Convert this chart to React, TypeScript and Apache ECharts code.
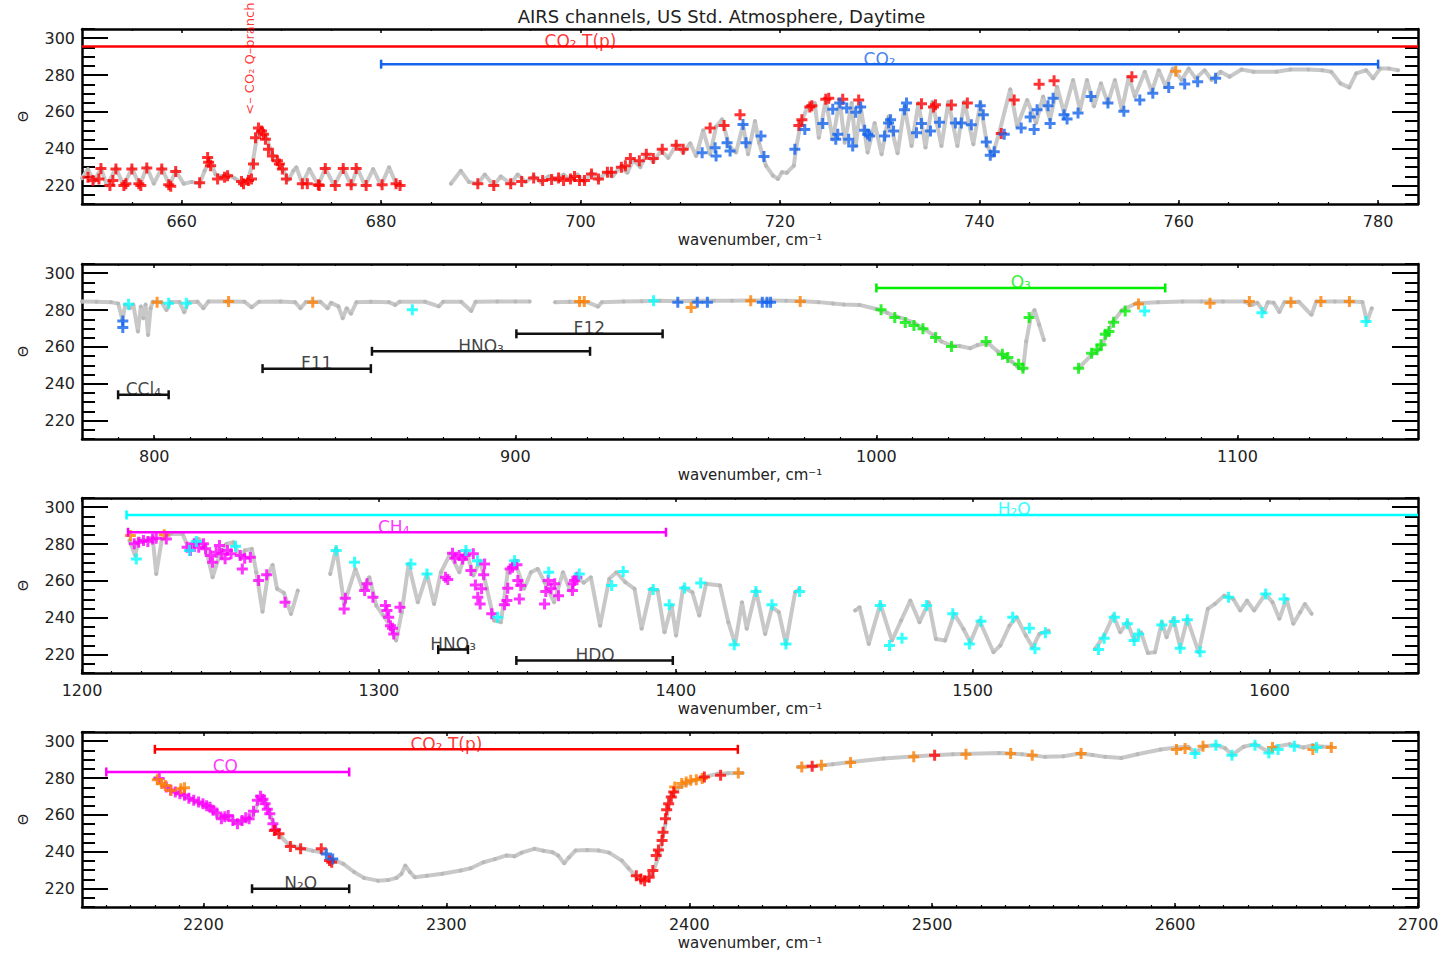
import React, { useEffect, useRef } from 'react';
import * as echarts from 'echarts';

const TITLE = 'AIRS channels, US Std. Atmosphere, Daytime';
const X_NAME = 'wavenumber, cm⁻¹';
const Y_NAME = 'Θ';
const Y_MIN = 210;
const Y_MAX = 305;
const Y_TICKS = [220, 240, 260, 280, 300];

const P1_TICKS = [660, 680, 700, 720, 740, 760, 780];
const P2_TICKS = [800, 900, 1000, 1100];
const P3_TICKS = [1200, 1300, 1400, 1500, 1600];
const P4_TICKS = [2200, 2300, 2400, 2500, 2600, 2700];

// ---------- Panel 1 (650-784) ----------
const p1Gray = [
  [650, 224], [650.6, 229], [651.2, 222], [651.9, 229.5], [652.5, 220], [653.4, 229.5], [654.2, 220], [655.0, 229.5],
  [655.8, 220], [656.5, 230], [657.2, 221], [658.0, 229.5], [658.8, 220], [659.4, 228], [660.2, 221], [661, 222],
  [661.8, 221], [662.3, 228], [662.8, 234], [663.4, 226], [664, 225], [664.6, 226], [665.3, 224], [666, 222],
  [666.6, 222], [667.1, 232], [667.6, 248], [668, 251], [668.5, 246], [669, 238], [669.6, 233], [670.2, 228],
  [670.7, 223], [671.2, 228], [671.5, 230], [672.1, 221], [672.8, 229], [673.7, 220], [674.4, 229.5], [675.3, 220],
  [676.2, 229.5], [677, 220], [677.6, 229.5], [678.4, 220], [679.2, 229], [680, 220], [680.8, 230], [681.5, 221],
  [682, 220], [684, '-'],
  [687, 221], [688, 228], [688.8, 222], [689.7, 221], [690.4, 226], [691.3, 220], [692, 225], [693, 221],
  [693.7, 226], [694.5, 222], [695.3, 225], [696, 222], [696.8, 225], [697.5, 223], [698.3, 226], [699, 223],
  [699.7, 226], [700.4, 222], [701.1, 227], [701.8, 223], [702.5, 227], [703.2, 225], [704, 230], [704.7, 227],
  [705.3, 234], [706, 230], [706.6, 237], [707.3, 233], [708.1, 239], [708.8, 235], [709.6, 242], [710.3, 238],
  [711, 243], [711.6, 236], [712.3, 250], [713, 237], [713.6, 252], [714.2, 256], [714.9, 241.5], [715.6, 238],
  [716.3, 253], [716.8, 237], [717.5, 255], [717.9, 243.3], [718.6, 230.8], [719.3, 225.4], [719.8, 223.6],
  [720.2, 227.2], [720.7, 227], [721.4, 230.8], [721.6, 239.7], [722.1, 254], [722.8, 263], [723.5, 264.8],
  [723.9, 246], [724.6, 266.5], [725.3, 245], [726, 266.5], [726.5, 243.3], [727.2, 264.8], [727.6, 241.5],
  [728.1, 263], [728.8, 237.9], [729.5, 254], [730.2, 237], [730.9, 257.6], [731.8, 237.5], [732.5, 263],
  [733.2, 241.5], [733.9, 264.8], [734.6, 240.6], [735.3, 265.5], [736.2, 241.5], [736.9, 265.5], [737.8, 241.5],
  [738.5, 265.5], [739.4, 242.4], [740.1, 264.8], [740.8, 241.5], [741.3, 236], [742, 248.7], [743.1, 272.3],
  [743.8, 252.2], [744.8, 266.5], [745.7, 254], [746.4, 268.3], [747.1, 255.8], [747.8, 273.7], [748.5, 259.4],
  [749.4, 277.3], [750.1, 261.2], [750.8, 277.3], [751.5, 263], [752.2, 275.5], [752.9, 264.8], [753.6, 277.3],
  [754.3, 261.2], [755, 279.1], [755.6, 268.3], [756.6, 281.8], [757.3, 271], [758, 282.6], [758.7, 273.7],
  [759.4, 283.5], [760.3, 277.3], [761, 283.5], [761.7, 278.2], [762.6, 282.6], [763.3, 277.3], [764.2, 281.8],
  [765.1, 279.1], [766.3, 283], [767.5, 281.8], [769.8, 281.8], [771.2, 283], [773, 283], [774.4, 282.6],
  [775.3, 281.8], [776.2, 275.5], [777.1, 273.3], [777.8, 280.9], [778.8, 282.6], [779.5, 278.2], [780.2, 283.5],
  [781.1, 283.5], [782, 282.6],
];
const p1Red = [
  [650.6, 224.5], [651.1, 222.7], [651.7, 223.6], [651.9, 229.3], [652.8, 220], [653.1, 222.7], [653.4, 229],
  [654.2, 220], [654.4, 221], [655.0, 229], [655.7, 221], [655.9, 220], [656.5, 229.5], [658.0, 229], [658.7, 220.4],
  [658.9, 219.7], [659.4, 227.6], [661.8, 221.5], [662.6, 235.2], [662.7, 232.6], [662.9, 230.8], [663.6, 223.6],
  [664.3, 224.5], [664.6, 225.4], [666.0, 222.2], [666.2, 221], [666.7, 222.7], [667.0, 223.6], [667.2, 231.7],
  [667.4, 246], [667.7, 251.3], [668.0, 249.6], [668.2, 247.8], [668.4, 245.1], [668.7, 239.7], [669.1, 236.1],
  [669.6, 233.5], [669.8, 231.7], [670.1, 229], [670.5, 223.6], [672.1, 221], [672.6, 221], [673.7, 220.4],
  [673.8, 220], [674.4, 229.3], [675.4, 220], [676.2, 229.3], [677.0, 220.4], [677.5, 229.3], [678.5, 220],
  [680.1, 220.4], [681.5, 221], [681.9, 220],
  [689.7, 221], [691.3, 220], [693.0, 221], [694.1, 222.2], [695.3, 224.1], [696.2, 222.7], [697.1, 223.3],
  [697.8, 224.1], [698.3, 222.7], [699.0, 223.6], [699.4, 224.9], [699.9, 222.7], [700.4, 222.7], [701.1, 226.3],
  [701.8, 223.6], [702.7, 227.2], [703.1, 227.2], [704.1, 229.9], [704.5, 230.8], [705.0, 234.7], [705.9, 233.5],
  [706.6, 237], [707.3, 234.7], [708.2, 239.7], [709.6, 241.9], [710.3, 239.7], [713.0, 251.3], [714.4, 252.6],
  [716.0, 258.5], [721.9, 252.6], [722.2, 255.8], [723, 262.6], [723.2, 263.3], [724.6, 266.9], [724.9, 267.4],
  [726.3, 266.9], [727.9, 266.5], [734.2, 264.4], [735.4, 262.6], [735.6, 263.9], [737.2, 263.7], [738.8, 264.8],
  [742.2, 248.3], [743.5, 266.5], [746, 275], [747.5, 276.9], [755.3, 279.1],
];
const p1Blue = [
  [712.2, 237.8], [713.5, 240.5], [713.6, 236.1], [714.7, 243.3], [715, 238.8], [716.3, 253.1], [716.6, 243.3],
  [718.1, 246.9], [718.4, 235.8], [721.5, 239.7], [722.5, 250.4], [724.3, 253.7], [725.3, 261.5], [725.6, 245.1],
  [725.8, 247.8], [726, 264.8], [726.7, 262.1], [726.9, 245.1], [727.3, 241.5], [727.6, 259.8], [728.1, 262.6],
  [728.5, 250.1], [728.8, 247.8], [729, 246.9], [730.5, 246.9], [730.9, 254], [731.1, 255.8], [731.4, 249.6],
  [732.5, 261.2], [732.7, 264.8], [733.7, 248.7], [734.2, 253.7], [735.1, 249.6], [736, 254.4], [737.6, 254],
  [738.2, 254], [739.2, 253], [740.1, 263.3], [740.4, 258.5], [740.7, 243.6], [741.1, 236.5], [741.5, 238.3],
  [742.5, 247.8], [744.2, 251.3], [745.1, 257.2], [745.5, 250.4], [745.8, 261.2], [746.9, 263.3], [747.1, 253.7],
  [747.4, 267.4], [748.5, 258.5], [748.8, 256.2], [749.9, 259.4], [751.2, 268.3], [752.9, 264.8], [754.5, 260.3],
  [756.1, 266.5], [757.4, 270.1], [759, 273.3], [760.6, 275.1], [761.9, 276.4], [763.7, 278.2],
];
const p1Orange = [[759.7, 282.1]];

// ---------- Panel 2 (780-1150) ----------
const p2Gray = [
  [780, 284.6], [784, 284.5], [788, 284.3], [790, 283.5], [791.2, 274.7], [792, 283], [793.2, 281], [794.2, 283],
  [795.5, 268.3], [796.3, 282], [797, 275.6], [797.6, 283], [798.3, 266.5], [799, 281], [799.6, 284.5], [802, 284.3],
  [803.4, 280], [804.5, 284.4], [807, 284.4], [808.3, 278.8], [809.5, 284.4], [812, 284.5], [813.6, 281],
  [815, 284.6], [820, 284.6], [825, 284.5], [827, 281.5], [829, 284.5], [835, 284.6], [839, 284.3], [840.5, 281],
  [842, 284.4], [846, 284.5], [848, 281], [849, 284], [851, 282], [852.2, 275.6], [853.3, 281], [854.5, 278],
  [856, 284.3], [860, 284.5], [865, 284.3], [866.7, 282.8], [868, 284.5], [875, 284.5], [878.8, 282], [880, 284.5],
  [885, 284.5], [887.8, 279.5], [889, 284.5], [895, 284.6], [900, 284.6], [904, 284.6], [907, '-'],
  [911, 284.3], [915, 284.5], [920, 284.3], [922.9, 281.9], [924, 284.3], [930, 284.6], [935, 284.8], [940, 285],
  [945, 284.8], [950, 285], [955, 285], [960, 285], [965, 285.2], [970, 285.2], [975, 285], [980, 284.8],
  [984, 284.3], [988, 283.5], [991, 283], [995.3, 282.8], [1000, 280.6], [1003, 278.5], [1005.5, 276.5],
  [1008, 275], [1010.6, 272.9], [1013, 270], [1015.7, 266.5], [1018, 263], [1020.8, 260.7], [1023, 260.5],
  [1026, 259.3], [1028, 261], [1031, 262], [1033.6, 257.5], [1035.5, 255], [1037.5, 252], [1039, 249.5],
  [1040.6, 247.5], [1041.5, 263], [1042.8, 276.5], [1043.8, 280], [1045.1, 272], [1046.4, 263.8], [1050, '-'],
  [1056, 248.4], [1059.6, 255.7], [1062.1, 259.3], [1063.7, 266.5], [1065.6, 273.8], [1068.1, 280], [1072, 283.7],
  [1078, 284.2], [1084.8, 284.6], [1090, 284.6], [1096, 284.6], [1102, 284.6], [1104, 282.8], [1105.5, 284],
  [1107.3, 279], [1108.4, 284.2], [1110, 284], [1111.6, 279], [1113, 284.3], [1117, 284.5], [1120.5, 277.4],
  [1121.8, 284.6], [1127, 284.6], [1131, 284.6], [1134.6, 284.4], [1135.9, 273.8], [1137.2, 281],
];
const p2Cyan = [
  [792.9, 283.2], [804, 283.7], [808.9, 283.7], [871.5, 280.1], [938.3, 285], [1074.3, 279.5], [1106.8, 278.6],
  [1135.6, 273.8],
];
const p2Blue = [
  [791.3, 274], [791.3, 270.5], [945, 284.3], [950.4, 284.3], [953.2, 284.3], [968.4, 284.3], [969.7, 284.3],
  [970.7, 284.3],
];
const p2Orange = [
  [800.8, 284.3], [820.6, 284.6], [843.9, 284.3], [917.8, 284.6], [919.1, 284.6], [948.7, 281.4], [965.2, 285],
  [978.9, 284.6], [1072.6, 283.3], [1092.4, 283.7], [1103.3, 284.6], [1114.8, 284.3], [1123.1, 284.6],
  [1131, 284.6],
];
const p2Green = [
  [1001.3, 280.1], [1005.1, 275.9], [1008, 273.2], [1010.4, 271.6], [1012.9, 269.8], [1016.4, 265.1],
  [1020.8, 260.2], [1030.4, 262.9], [1034.9, 256], [1036.4, 254.2], [1039.4, 250.6], [1040.6, 248.4],
  [1042.3, 275.9], [1056, 248.4], [1059.6, 256.6], [1061.1, 258.4], [1062.2, 261.1], [1063.4, 266.9],
  [1064.4, 268.3], [1065.7, 273.4], [1068.9, 279.5],
];

// ---------- Panel 3 (1200-1650) ----------
const p3Gray = [
  [1216, 282], [1217.9, 273.8], [1219.1, 282.8], [1221, 282], [1222.5, 283], [1223.8, 283.7], [1225, 263.8],
  [1226.9, 282.8], [1230, 285.5], [1233.9, 285.5], [1236.2, 276.5], [1237.8, 281.5], [1239.3, 282.8],
  [1241.6, 278.3], [1244, 262], [1246.3, 273.8], [1248.6, 280], [1251, 281], [1253.3, 272.6], [1254.8, 276.5],
  [1257.2, 277.4], [1258.7, 264.7], [1260.8, 243.3], [1262.6, 263.3], [1264.2, 268.7], [1265.7, 255.7],
  [1268, 253.5], [1270.4, 242], [1272.7, 254.8], [1278, '-'],
  [1283.6, 263.8], [1285.6, 277.7], [1288.3, 247.5], [1292.1, 266.5], [1294.5, 255.7], [1296.8, 262],
  [1299.1, 246.6], [1301.5, 241.2], [1303.8, 235.7], [1305.8, 227.6], [1307.7, 243], [1310, 269.2],
  [1313.1, 248.4], [1316.2, 263.8], [1318.6, 247.5], [1320.9, 264.7], [1324, 274.7], [1327.1, 264.7],
  [1329.4, 276.5], [1331.8, 262.9], [1334.1, 271], [1336.4, 255.7], [1338.8, 238.5], [1341.1, 237.6],
  [1343.4, 264.7], [1345.7, 271], [1348.9, 255.7], [1351.2, 264.7], [1353.5, 266.5], [1355.8, 259.3],
  [1359, 248.4], [1362, 264.7], [1364.4, 254.8], [1366.7, 262], [1369, 259], [1371.4, 262], [1374.5, 235.7],
  [1377.6, 261.1], [1380, 264.7], [1383, 259.3], [1386.1, 255.7], [1388.5, 234], [1391.6, 255.7], [1393.9, 254.8],
  [1396.2, 232.1], [1398.6, 246.6], [1400.1, 230.3], [1402.5, 256.6], [1405.6, 253.8], [1407.9, 241.2],
  [1410.2, 258.4], [1414.9, 257.5], [1417.7, 237.6], [1420, 225.8], [1422.3, 248.4], [1423.9, 234], [1427, 254.8],
  [1430.1, 231.2], [1432.4, 245.7], [1434.7, 243], [1437.1, 225.8], [1440.2, 253.8], [1441.7, 255.7], [1450, '-'],
  [1460.4, 243.9], [1461.9, 245.7], [1465, 225.8], [1468.9, 247.5], [1472.8, 227.6], [1475.9, 238.5],
  [1479, 249.3], [1482.1, 237.6], [1485.2, 248.4], [1487.6, 228.5], [1490.7, 227.6], [1493.8, 242.1],
  [1496.9, 233.9], [1499.2, 226.7], [1502.3, 238.5], [1507, 221.3], [1509.3, 224.9], [1512.4, 235.7],
  [1514.8, 240.3], [1517.9, 230.3], [1520.2, 224], [1522.5, 231.2], [1525.6, 233], [1533, '-'],
  [1541.2, 223.1], [1544.3, 230.3], [1547.4, 241.2], [1549.7, 232.1], [1552.1, 237.6], [1554.4, 227.6],
  [1556.7, 232.1], [1559, 220.9], [1561.4, 221.3], [1563.7, 237.6], [1565.3, 229.4], [1567.6, 239.4],
  [1569.9, 224], [1572.3, 239.4], [1576.1, 221.3], [1579.2, 244.8], [1581.6, 247.5], [1584.7, 252],
  [1587.8, 250.2], [1590.1, 243.9], [1592.4, 249.3], [1594.8, 243.9], [1598.6, 252.9], [1601, 248.4],
  [1603.3, 239.4], [1605.7, 250.2], [1608, 236.7], [1610.3, 243], [1611.9, 247.5], [1614.2, 242.1],
];
const p3Orange = [[1216.3, 284.6], [1227.7, 285]];
const p3Magenta = [
  [1217.6, 280.1], [1219.1, 281], [1220.7, 281.9], [1222.2, 281.4], [1223.8, 282.8], [1225, 283.2], [1228.4, 282.8],
  [1235.4, 278.3], [1236.5, 276.5], [1237.8, 280.1], [1239.3, 278.3], [1240.9, 280.1], [1241.6, 277.4],
  [1243.2, 273.8], [1244, 270.1], [1245.2, 275.6], [1246.3, 279.2], [1247.1, 274.7], [1248.2, 272], [1249, 276.5],
  [1250.2, 274.7], [1253.3, 273.8], [1254, 266.5], [1254.8, 272.3], [1256.7, 272.9], [1259.5, 260.2],
  [1262.2, 263.3], [1268.4, 248.4], [1288.7, 250.6], [1288.3, 244.8], [1296, 258.4], [1295.2, 254.8],
  [1298, 251.1], [1302.2, 246.6], [1302.7, 243.9], [1303.3, 240.3], [1303.9, 235.7], [1304.6, 234.3],
  [1305, 231.2], [1307.1, 245.7], [1322.4, 262], [1323.2, 260.7], [1324.8, 275], [1325.6, 272.3], [1327.1, 273.8],
  [1328.2, 271.9], [1329.1, 273.8], [1331.8, 274.7], [1331, 265.6], [1332.5, 257.8], [1333.3, 251.1],
  [1335.3, 263.3], [1334.6, 255.7], [1334.1, 247.5], [1335.6, 269.2], [1338, 242.1], [1342.3, 247],
  [1343.1, 249.3], [1343.4, 256], [1344.2, 266.5], [1345, 267.4], [1346.5, 268.7], [1346.8, 260.2],
  [1347.8, 257.5], [1347.3, 250.2], [1355.8, 247.5], [1356.2, 254.2], [1357, 260.2], [1358, 255.7],
  [1359.2, 258.4], [1360.5, 252], [1365.2, 254.8], [1365.4, 258.4], [1365.9, 260.2], [1366.7, 262],
];
const p3Cyan = [
  [1218.3, 271.9], [1236.2, 276.5], [1238.5, 281.4], [1251.7, 278.8], [1285.6, 276.5], [1291.8, 270.1],
  [1310.8, 269.2], [1316.2, 263.8], [1329.3, 276.5], [1333.2, 271], [1340, 240.3], [1345.7, 271], [1357.2, 264.7],
  [1367.5, 263.8], [1378.4, 257.5], [1382.3, 265.1], [1392.4, 255.3], [1397.8, 247], [1403, 256.2],
  [1408.4, 258.9], [1419.7, 225.3], [1427, 254.2], [1432.4, 247], [1437.1, 225.8], [1441.7, 254.2],
  [1468.9, 246.6], [1472, 224.9], [1476.2, 228.9], [1484.5, 246.6], [1493.3, 242.1], [1498.9, 225.8],
  [1502.8, 238.1], [1513.5, 240.3], [1519.1, 234.3], [1521, 223.1], [1524.5, 231.8], [1542.4, 222.7],
  [1544.3, 228.9], [1547.7, 240.3], [1552.1, 236.7], [1554.4, 227.6], [1555.9, 231.2], [1563.7, 236.1],
  [1567.9, 237.9], [1569.9, 223.4], [1572.3, 238.9], [1576.6, 221.6], [1586.2, 251.1], [1598.7, 252.9],
  [1604.9, 250.2],
];

// ---------- Panel 4 (2150-2700) ----------
const p4Gray = [
  [2180, 280], [2183, 277], [2186, 274], [2189, 272], [2192, 270.5], [2195, 268.5], [2198, 266.5], [2201, 265],
  [2204, 262], [2207, 258.5], [2210, 259.5], [2213, 256], [2216, 256.5], [2219, 258], [2221, 262], [2223, 268.5],
  [2224.5, 270], [2226, 266], [2228, 258], [2230, 252], [2232, 248], [2235, 244], [2240, 242], [2245, 240.5],
  [2250, 239.5], [2253, 236], [2257.6, 233.4], [2262, 229], [2266.1, 225.8], [2271.8, 224.3], [2276, 224.6],
  [2279.4, 225.8], [2281.5, 228], [2283.1, 232.5], [2285, 229], [2287, 226.1], [2292, 227], [2298.3, 228],
  [2305.9, 229.8], [2310, 231], [2315.3, 234.3], [2320, 236], [2324.8, 238], [2328, 237.5], [2331, 239.5],
  [2336.2, 241.6], [2340, 240.5], [2343.7, 239.7], [2346, 238], [2348.5, 233.8], [2350.5, 237], [2353.2, 240.7],
  [2358, 241], [2362.7, 240.7], [2367, 239.5], [2372.2, 235.2], [2375, 231], [2377.8, 227], [2381.6, 224.3],
  [2384.5, 227], [2387.3, 237], [2390.2, 255.2], [2392.1, 269.7], [2395.8, 275.1], [2400.6, 277.9],
  [2406.2, 280.6], [2411.9, 282.4], [2416, 282.6], [2422, 282.8], [2433, '-'],
  [2444.9, 286], [2451.6, 286.4], [2459, 287.5], [2466.8, 288.7], [2480, 290.6], [2493.4, 291.8], [2508.5, 292.9],
  [2527.5, 293.6], [2537, 292.9], [2546.5, 291.5], [2554, 291.8], [2560.8, 293.3], [2566, 292.5], [2571.2, 291.5],
  [2577.8, 290.9], [2584.5, 292.9], [2594, 295.5], [2600.6, 296.6], [2605.4, 297], [2608.2, 293.6], [2612, 297.3],
  [2616.8, 297.8], [2620.6, 296.2], [2623.4, 292.4], [2628.2, 297], [2632.9, 298.4], [2638.6, 294.2],
  [2641.5, 297], [2647.2, 298.4], [2652.9, 296.6], [2656.7, 297.8], [2660.5, 297], [2664.3, 297],
];
const p4Red = [
  [2229.2, 251.5], [2231.1, 249.7], [2235.8, 242.8], [2240, 241.6], [2248.5, 241.6], [2251.9, 235.2],
  [2252.8, 234.3], [2378.2, 227], [2380.1, 225.2], [2381.6, 224.3], [2383.5, 226.1], [2385, 229.8],
  [2386.4, 237.9], [2387.3, 241], [2388.8, 246.1], [2389.2, 250.6], [2390.2, 257.9], [2390.7, 262.8],
  [2391.5, 266.1], [2392.6, 269.7], [2393.6, 272.4], [2406.2, 280.6], [2412.9, 281.5], [2450.6, 286.4],
  [2501, 292.4],
];
const p4Orange = [
  [2181, 279.1], [2182.8, 277], [2184.3, 276], [2186.6, 273.3], [2190.7, 274.2], [2192.2, 274.8], [2394, 275.1],
  [2396.9, 277], [2398.7, 277.9], [2400.6, 278.8], [2402.9, 279.1], [2405.3, 279.7], [2420.2, 282.8],
  [2446.3, 286], [2454.4, 286.9], [2466.4, 288.4], [2492.4, 291.5], [2513.9, 292.9], [2532.3, 293.3],
  [2541.2, 292.4], [2561.3, 293.3], [2600.6, 295.5], [2604.1, 296], [2611.5, 297.3], [2640.1, 296.6],
  [2656.7, 295.5], [2664.3, 296.6],
];
const p4Magenta = [
  [2181.8, 279.7], [2184.7, 275.1], [2186.5, 273.5], [2188.4, 272.4], [2190.3, 271.5], [2192.2, 270.6],
  [2194, 269], [2196, 267.9], [2198, 267], [2199.8, 266.1], [2201.3, 265], [2202.7, 264.2], [2204, 262.5],
  [2205.5, 261], [2207.4, 257.9], [2208.8, 259], [2210.2, 259.7], [2212.1, 257], [2214, 255.2], [2215.9, 257],
  [2217.4, 258.5], [2218.8, 257.9], [2220.6, 262], [2222.2, 267.9], [2223.5, 270.1], [2224.5, 268.5],
  [2225.4, 266.1], [2226.3, 263], [2227.3, 260.6], [2228.6, 255.2], [2229.7, 251.9],
];
const p4Blue = [[2250.6, 238.8], [2253.2, 236]];
const p4Cyan = [
  [2608.2, 293.3], [2616.8, 297.8], [2623.4, 292.4], [2632.9, 297.8], [2638.6, 293.6], [2642.4, 295.5],
  [2649.1, 297.3], [2658.2, 296.6],
];

// ---------- Bands (wavenumber ranges) ----------
const p1Bands = [
  { text: 'CO₂ T(p)', x0: 650, x1: 784, y: 295.5, lx: 700, c: 'red', capL: false, capR: false },
  { text: 'CO₂', x0: 680, x1: 780, y: 285.9, lx: 730, c: 'blue', capL: true, capR: true },
];
const p2Bands = [
  { text: 'CCl₄', x0: 790, x1: 804, y: 234, lx: 797, c: 'black', capL: true, capR: true },
  { text: 'F11', x0: 830, x1: 860, y: 248.2, lx: 845, c: 'black', capL: true, capR: true },
  { text: 'HNO₃', x0: 860.3, x1: 920.7, y: 257.6, lx: 890.5, c: 'black', capL: true, capR: true },
  { text: 'F12', x0: 900.3, x1: 940.8, y: 267.1, lx: 920.5, c: 'black', capL: true, capR: true },
  { text: 'O₃', x0: 1000, x1: 1080, y: 292, lx: 1040, c: 'green', capL: true, capR: true },
];
const p3Bands = [
  { text: 'H₂O', x0: 1215, x1: 1650, y: 295.8, lx: 1514, c: 'cyan', capL: true, capR: false },
  { text: 'CH₄', x0: 1215.5, x1: 1396.7, y: 286.4, lx: 1305, c: 'magenta', capL: true, capR: true },
  { text: 'HNO₃', x0: 1320, x1: 1330, y: 222.7, lx: 1325, c: 'black', capL: true, capR: true },
  { text: 'HDO', x0: 1346.3, x1: 1399, y: 216.8, lx: 1372.8, c: 'black', capL: true, capR: true },
];
const p4Bands = [
  { text: 'CO₂ T(p)', x0: 2180, x1: 2420, y: 295.6, lx: 2300, c: 'red', capL: true, capR: true },
  { text: 'CO', x0: 2160, x1: 2260, y: 283.3, lx: 2209, c: 'magenta', capL: true, capR: true },
  { text: 'N₂O', x0: 2220, x1: 2260, y: 219.9, lx: 2240, c: 'black', capL: true, capR: true },
];
const p1Note = { text: '<– CO₂ Q–branch', x: 666.8, y: 258.5 };

const COLORS: Record<string, string> = {
  red: '#ff0000',
  blue: '#1464ee',
  orange: '#ff8000',
  cyan: '#00ffff',
  magenta: '#ff00ff',
  green: '#00ee00',
  black: '#111111',
  gray: '#c8c8c8',
};

const FONT = "'DejaVu Sans', sans-serif";
const PLUS = 'path://M4,0H7V4H11V7H7V11H4V7H0V4H4Z';

const PANELS = [
  { min: 650, max: 784, minor: 5, ticks: P1_TICKS, gray: p1Gray, bands: p1Bands,
    pts: [['red', p1Red], ['blue', p1Blue], ['orange', p1Orange]] },
  { min: 780, max: 1150, minor: 10, ticks: P2_TICKS, gray: p2Gray, bands: p2Bands,
    pts: [['cyan', p2Cyan], ['blue', p2Blue], ['orange', p2Orange], ['green', p2Green]] },
  { min: 1200, max: 1650, minor: 10, ticks: P3_TICKS, gray: p3Gray, bands: p3Bands,
    pts: [['orange', p3Orange], ['magenta', p3Magenta], ['cyan', p3Cyan]] },
  { min: 2150, max: 2700, minor: 10, ticks: P4_TICKS, gray: p4Gray, bands: p4Bands,
    pts: [['magenta', p4Magenta], ['orange', p4Orange], ['red', p4Red], ['blue', p4Blue], ['cyan', p4Cyan]] },
];

const GRID_TOPS = [29, 264, 498, 732];

function buildOption() {
  const grid: any[] = [];
  const xAxis: any[] = [];
  const yAxis: any[] = [];
  const series: any[] = [];
  const lineC = '#000';

  PANELS.forEach((p, g) => {
    grid.push({ left: 82, right: 25, top: GRID_TOPS[g], height: 175 });
    const xb = { type: 'value', gridIndex: g, min: p.min, max: p.max, interval: p.minor, splitLine: { show: false } };
    const fmtX = (v: number) => (p.ticks.indexOf(v) >= 0 ? String(v) : '');
    xAxis.push({
      ...xb, position: 'bottom',
      axisLine: { show: true, onZero: false, lineStyle: { color: lineC, width: 2.5 } },
      axisTick: { show: true, inside: true, length: 4, customValues: p.ticks, lineStyle: { color: lineC, width: 1.5 } },
      axisLabel: { show: true, customValues: p.ticks, formatter: fmtX, color: '#222', fontSize: 16, fontFamily: FONT, margin: 9 },
      name: X_NAME, nameLocation: 'middle', nameGap: 28,
      nameTextStyle: { color: '#222', fontSize: 15, fontFamily: FONT },
    });
    xAxis.push({
      ...xb, position: 'bottom',
      axisLine: { show: false, onZero: false },
      axisTick: { show: true, inside: true, length: 2, lineStyle: { color: lineC, width: 1.2 } },
      axisLabel: { show: false },
    });
    xAxis.push({
      ...xb, position: 'top',
      axisLine: { show: true, onZero: false, lineStyle: { color: lineC, width: 2.5 } },
      axisTick: { show: true, inside: true, length: 4, customValues: p.ticks, lineStyle: { color: lineC, width: 1.5 } },
      axisLabel: { show: false },
    });
    xAxis.push({
      ...xb, position: 'top',
      axisLine: { show: false, onZero: false },
      axisTick: { show: true, inside: true, length: 2, lineStyle: { color: lineC, width: 1.2 } },
      axisLabel: { show: false },
    });

    const yb = { type: 'value', gridIndex: g, min: Y_MIN, max: Y_MAX, interval: 5, splitLine: { show: false } };
    const fmtY = (v: number) => (Y_TICKS.indexOf(v) >= 0 ? String(v) : '');
    yAxis.push({
      ...yb, position: 'left',
      axisLine: { show: true, onZero: false, lineStyle: { color: lineC, width: 2.5 } },
      axisTick: { show: true, inside: true, length: 26, customValues: Y_TICKS, lineStyle: { color: lineC, width: 2 } },
      axisLabel: { show: true, customValues: Y_TICKS, formatter: fmtY, color: '#222', fontSize: 16, fontFamily: FONT, margin: 7 },
      name: Y_NAME, nameLocation: 'middle', nameGap: 52, nameRotate: 90,
      nameTextStyle: { color: '#222', fontSize: 14, fontFamily: FONT },
    });
    yAxis.push({
      ...yb, position: 'left',
      axisLine: { show: false, onZero: false },
      axisTick: { show: true, inside: true, length: 13, lineStyle: { color: lineC, width: 2 } },
      axisLabel: { show: false },
    });
    yAxis.push({
      ...yb, position: 'right',
      axisLine: { show: true, onZero: false, lineStyle: { color: lineC, width: 2.5 } },
      axisTick: { show: true, inside: true, length: 26, customValues: Y_TICKS, lineStyle: { color: lineC, width: 2 } },
      axisLabel: { show: false },
    });
    yAxis.push({
      ...yb, position: 'right',
      axisLine: { show: false, onZero: false },
      axisTick: { show: true, inside: true, length: 13, lineStyle: { color: lineC, width: 2 } },
      axisLabel: { show: false },
    });

    const xi = g * 4;
    const yi = g * 4;

    series.push({
      type: 'line', xAxisIndex: xi, yAxisIndex: yi, data: p.gray, connectNulls: false,
      lineStyle: { color: COLORS.gray, width: 4 },
      symbol: 'circle', symbolSize: 4, showSymbol: true, showAllSymbol: true,
      itemStyle: { color: '#b9b9b9' }, z: 1, silent: true,
    });

    p.pts.forEach(([c, arr]: any) => {
      series.push({
        type: 'scatter', xAxisIndex: xi, yAxisIndex: yi, data: arr,
        symbol: PLUS, symbolSize: 11, itemStyle: { color: COLORS[c] }, z: 3, silent: true,
      });
    });

    p.bands.forEach((b: any) => {
      series.push({
        type: 'line', xAxisIndex: xi, yAxisIndex: yi,
        data: [
          { value: [b.x0, b.y], symbol: b.capL ? 'rect' : 'none' },
          { value: [b.x1, b.y], symbol: b.capR ? 'rect' : 'none' },
        ],
        symbolSize: [2.5, 9], showAllSymbol: true,
        lineStyle: { color: COLORS[b.c], width: 2.5 }, itemStyle: { color: COLORS[b.c] }, z: 4, silent: true,
      });
    });

    series.push({
      type: 'scatter', xAxisIndex: xi, yAxisIndex: yi, symbolSize: 0, z: 5, silent: true,
      itemStyle: { color: 'transparent' },
      label: { show: true, position: 'top', distance: 0, offset: [0, 3], fontSize: 17, fontFamily: FONT },
      data: p.bands.map((b: any) => ({ value: [b.lx, b.y], label: { formatter: b.text, color: COLORS[b.c] } })),
    });

    if (g === 0) {
      series.push({
        type: 'scatter', xAxisIndex: xi, yAxisIndex: yi, symbolSize: 0, z: 5, silent: true,
        itemStyle: { color: 'transparent' },
        data: [{
          value: [p1Note.x, p1Note.y],
          label: {
            show: true, formatter: p1Note.text, position: [0, 0], rotate: 90, align: 'left', verticalAlign: 'middle',
            color: COLORS.red, fontSize: 13, fontFamily: FONT,
          },
        }],
      });
    }
  });

  return {
    animation: false,
    backgroundColor: '#ffffff',
    title: {
      text: TITLE, left: 'center', top: 2,
      textStyle: { color: '#222', fontSize: 18, fontWeight: 'normal', fontFamily: FONT },
    },
    grid, xAxis, yAxis, series,
  };
}

export default function App() {
  const ref = useRef<HTMLDivElement>(null);
  useEffect(() => {
    if (!ref.current) return;
    const chart = echarts.init(ref.current, undefined, { renderer: 'svg' });
    chart.setOption(buildOption() as any);
    return () => chart.dispose();
  }, []);
  return <div ref={ref} style={{ position: 'absolute', left: 0, top: 0, width: 1443, height: 953, background: '#fff' }} />;
}
